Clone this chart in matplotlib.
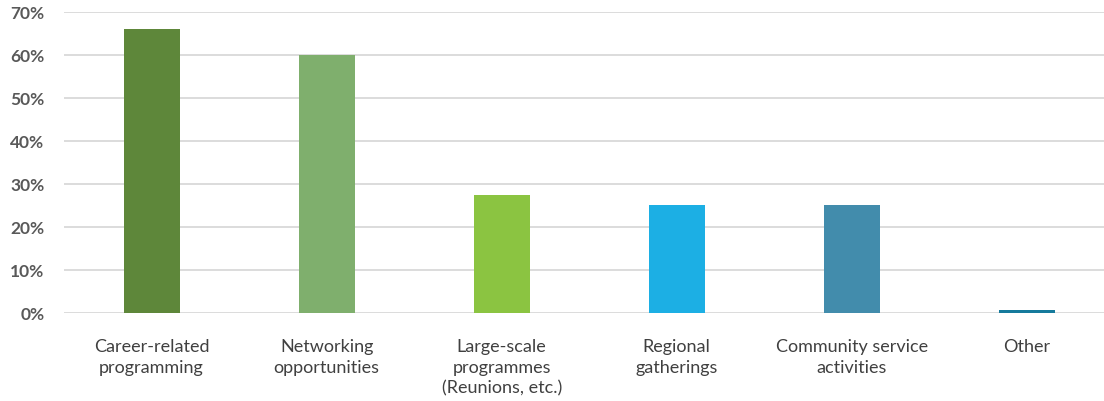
import numpy as np
import matplotlib.pyplot as plt
from matplotlib.ticker import FuncFormatter

categories = ['Career-related\nprogramming', 'Networking\nopportunities',
              'Large-scale\nprogrammes\n(Reunions, etc.)', 'Regional\ngatherings',
              'Community service\nactivities', 'Other']
values = [66, 60, 27.5, 25, 25, 0.8]
colors = ['#5E873A', '#7FAF6D', '#8BC441', '#1CAFE4', '#428CAC', '#157A9C']

plt.rcParams['font.family'] = ['Lato', 'DejaVu Sans']

fig = plt.figure(figsize=(11.04, 4.02), dpi=100)
ax = fig.add_axes([0.058, 0.219, 0.942, 0.749])

x = np.arange(len(categories))
ax.bar(x, values, width=0.32, color=colors, zorder=3)

ax.set_xlim(-0.5, len(categories) - 0.56)
ax.set_ylim(0, 70)
ax.set_yticks(range(0, 71, 10))
ax.yaxis.set_major_formatter(FuncFormatter(lambda v, p: f'{int(v)}%'))
ax.grid(axis='y', color='#D9D9D9', linewidth=1.3, zorder=0)
for s in ax.spines.values():
    s.set_visible(False)
ax.tick_params(axis='both', length=0)
ax.tick_params(axis='y', pad=14, labelsize=12.5, labelcolor='#595959')
for lbl in ax.get_yticklabels():
    lbl.set_fontweight('bold')
ax.set_xticks(x)
ax.set_xticklabels(categories, fontsize=13, color='#404040', linespacing=1.35)
ax.tick_params(axis='x', pad=18)

fig.savefig('out.png', dpi=100)
